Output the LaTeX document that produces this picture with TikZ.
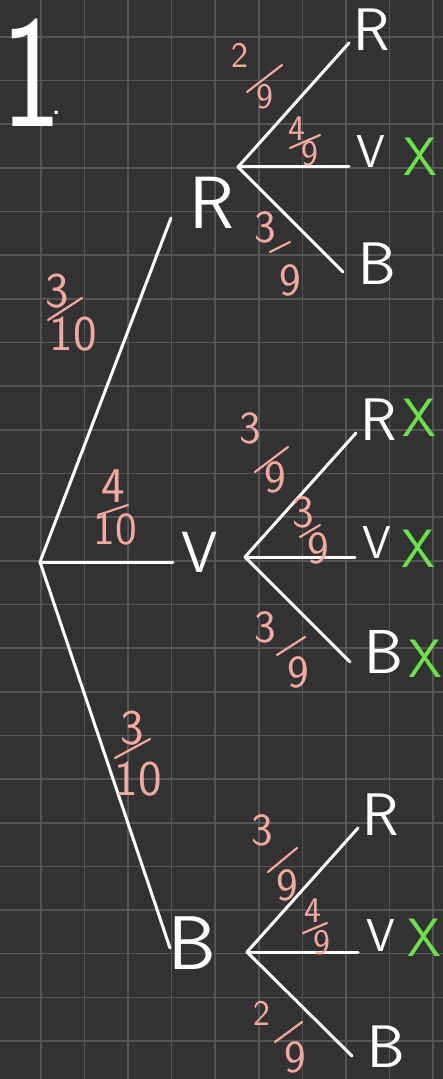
\documentclass[tikz,border=0pt]{standalone}
\usepackage{fontspec}
\definecolor{bgc}{HTML}{323232}
\definecolor{gridc}{HTML}{555555}
\definecolor{pinkc}{HTML}{F4A9A0}
\definecolor{greenc}{HTML}{6AE24A}
\newcommand{\fs}[1]{\sffamily\fontsize{#1}{#1}\selectfont}
\begin{document}
\begin{tikzpicture}[x=0.5pt,y=-0.5pt,
  gridline/.style={gridc,line width=0.8pt},
  tline/.style={white,line width=1.5pt,line cap=round},
  lab/.style={text=white,inner sep=0pt,anchor=center},
  num/.style={text=pinkc,inner sep=0pt,anchor=center,font=\fs{23}},
  numbig/.style={text=pinkc,inner sep=0pt,anchor=center,font=\fs{25}},
  numsm/.style={text=pinkc,inner sep=0pt,anchor=center,font=\fs{18}},
  fbar/.style={pinkc,line width=1.1pt,line cap=round},
  ok/.style={text=greenc,inner sep=0pt,anchor=center,font=\fs{27}}]
\fill[bgc] (0,0) rectangle (443,1079);
\useasboundingbox (0,0) rectangle (443,1079);
\foreach \i in {0,...,9} \draw[gridline] ({41+43.56*\i},0) -- ({41+43.56*\i},1079);
\foreach \j in {0,...,23} \draw[gridline] (0,{37+43.65*\j}) -- (443,{37+43.65*\j});

% title
\node[lab,font=\fs{80},anchor=base west] (title) at (1,127) {\scalebox{0.8}[1]{1}\kern-5pt\raisebox{6pt}{\fs{20}.}};

% main tree
\coordinate (r0) at (40,562);
\coordinate (mR) at (171,218);
\coordinate (mV) at (173,562);
\coordinate (mB) at (170,948);
\draw[tline] (r0) -- (mR);
\draw[tline] (r0) -- (mV);
\draw[tline] (r0) -- (mB);
\node[lab,font=\fs{37}] (LR) at (212,203) {R};
\node[lab,font=\fs{29}] (LV) at (200,552) {V};
\node[lab,font=\fs{38}] (LB) at (192,943) {B};

% subtree 1
\coordinate (s1) at (238,167);
\coordinate (s1R) at (349,43);
\coordinate (s1V) at (349,167);
\coordinate (s1B) at (343,272);
\draw[tline] (s1) -- (s1R);
\draw[tline] (s1) -- (s1V);
\draw[tline] (s1) -- (s1B);
\node[lab,font=\fs{30}] (a1R) at (372,30) {R};
\node[lab,font=\fs{23}] (a1V) at (371,152) {V};
\node[lab,font=\fs{30}] (a1B) at (377,264) {B};
\node[ok] (x1V) at (420,157) {X};

% subtree 2
\coordinate (s2) at (245,557);
\coordinate (s2R) at (356,433);
\coordinate (s2V) at (355,557);
\coordinate (s2B) at (350,662);
\draw[tline] (s2) -- (s2R);
\draw[tline] (s2) -- (s2V);
\draw[tline] (s2) -- (s2B);
\node[lab,font=\fs{30}] (a2R) at (379,420) {R};
\node[lab,font=\fs{23}] (a2V) at (377,543) {V};
\node[lab,font=\fs{31}] (a2B) at (384,652) {B};
\node[ok] (x2R) at (419,418) {X};
\node[ok] (x2V) at (418,549) {X};
\node[ok] (x2B) at (425,659) {X};

% subtree 3
\coordinate (s3) at (247,952);
\coordinate (s3R) at (358,828);
\coordinate (s3V) at (358,952);
\coordinate (s3B) at (352,1056);
\draw[tline] (s3) -- (s3R);
\draw[tline] (s3) -- (s3V);
\draw[tline] (s3) -- (s3B);
\node[lab,font=\fs{30}] (a3R) at (381,815) {R};
\node[lab,font=\fs{23}] (a3V) at (381,936) {V};
\node[lab,font=\fs{30}] (a3B) at (386,1047) {B};
\node[ok] (x3V) at (424,938) {X};

% fractions: main tree
\node[numbig] (f4n) at (57,291) {3};
\draw[fbar] (48,320) -- (82,298);
\node[numbig] (f4d) at (73,334) {10};
\node[numbig] (f5n) at (113,486) {4};
\draw[fbar] (98,515) -- (128,505);
\node[num] (f5d) at (115,529) {10};
\node[numbig] (f6n) at (132,728) {3};
\draw[fbar] (115,758) -- (150,739);
\node[numbig] (f6d) at (138,779) {10};

% fractions: subtree 1
\node[numsm] (f1n) at (240,55) {2};
\draw[fbar] (247,92) -- (282,65);
\node[numsm] (f1d) at (265,97) {9};
\node[numsm] (f2n) at (297,129) {4};
\draw[fbar] (290,148) -- (320,135);
\node[numsm] (f2d) at (310,154) {9};
\node[num] (f3n) at (265,227) {3};
\draw[fbar] (270,252) -- (290,242);
\node[num] (f3d) at (290,280) {9};

% fractions: subtree 2
\node[num] (f7n) at (250,428) {3};
\draw[fbar] (255,472) -- (288,447);
\node[num] (f7d) at (275,477) {9};
\node[num] (f8n) at (303,512) {3};
\draw[fbar] (300,537) -- (320,525);
\node[num] (f8d) at (318,548) {9};
\node[num] (f9n) at (265,627) {3};
\draw[fbar] (277,655) -- (305,637);
\node[num] (f9d) at (298,672) {9};

% fractions: subtree 3
\node[num] (f10n) at (262,830) {3};
\draw[fbar] (268,872) -- (297,848);
\node[num] (f10d) at (287,885) {9};
\node[numsm] (f11n) at (313,911) {4};
\draw[fbar] (303,933) -- (327,923);
\node[numsm] (f11d) at (322,943) {9};
\node[numsm] (f12n) at (262,1013) {2};
\draw[fbar] (275,1042) -- (302,1022);
\node[num] (f12d) at (295,1057) {9};
\end{tikzpicture}
\end{document}
